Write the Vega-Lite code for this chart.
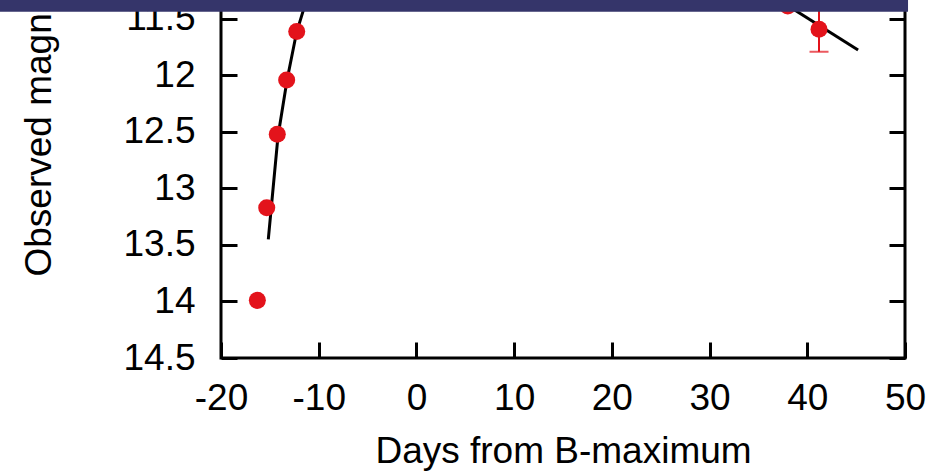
{
  "$schema": "https://vega.github.io/schema/vega-lite/v6.json",
  "width": 684,
  "height": 358,
  "autosize": {"type": "none"},
  "padding": {"left": 221, "top": 0, "right": 46, "bottom": 113},
  "background": "white",
  "config": {
    "view": {"stroke": "black", "strokeWidth": 3},
    "axis": {
      "grid": false,
      "domain": false,
      "offset": -16,
      "labelFlush": false,
      "labelOverlap": false,
      "tickColor": "black",
      "tickWidth": 3,
      "tickSize": 16,
      "labelFont": "Liberation Sans",
      "labelFontSize": 37,
      "labelColor": "black",
      "titleFont": "Liberation Sans",
      "titleFontSize": 37,
      "titleFontWeight": "normal",
      "titleColor": "black",
      "zindex": 0
    }
  },
  "datasets": {
    "obs": [
      {"day": -16.28, "mag": 13.99},
      {"day": -15.32, "mag": 13.17},
      {"day": -14.24, "mag": 12.52},
      {"day": -13.28, "mag": 12.04},
      {"day": -12.25, "mag": 11.61},
      {"day": 38.0, "mag": 11.385},
      {"day": 41.2, "mag": 11.59}
    ],
    "err": [
      {"day": 41.2, "lo": 11.39, "hi": 11.79}
    ],
    "fit": [
      {"curve": "rise", "day": -15.16, "mag": 13.45},
      {"curve": "rise", "day": -14.17, "mag": 12.54},
      {"curve": "rise", "day": -13.24, "mag": 12.04},
      {"curve": "rise", "day": -12.27, "mag": 11.62},
      {"curve": "rise", "day": -11.6, "mag": 11.43},
      {"curve": "rise", "day": -11.25, "mag": 11.33},
      {"curve": "decline", "day": 36.5, "mag": 11.3},
      {"curve": "decline", "day": 45.2, "mag": 11.775}
    ]
  },
  "layer": [
    {
      "data": {"name": "fit"},
      "mark": {"type": "line", "color": "black", "strokeWidth": 3, "clip": true},
      "encoding": {
        "x": {"field": "day", "type": "quantitative",
              "scale": {"domain": [-20, 50], "zero": false, "nice": false},
              "axis": {"orient": "bottom", "values": [-20, -10, 0, 10, 20, 30, 40, 50],
                       "labelExpr": "'' + datum.value", "labelPadding": 22,
                       "title": "Days from B-maximum", "titleBaseline": "alphabetic",
                       "titleY": 120}},
        "y": {"field": "mag", "type": "quantitative",
              "scale": {"domain": [11.332, 14.5], "reverse": true, "zero": false, "nice": false},
              "axis": {"orient": "left", "values": [11.5, 12, 12.5, 13, 13.5, 14, 14.5],
                       "labelExpr": "'' + datum.value", "labelPadding": 26,
                       "title": "Observed magnitude", "titleAngle": -90,
                       "titleAlign": "left", "titleBaseline": "alphabetic",
                       "titleX": -187, "titleY": 276}},
        "detail": {"field": "curve"}
      }
    },
    {
      "data": {"name": "err"},
      "mark": {"type": "rule", "color": "#e3131b", "strokeWidth": 2},
      "encoding": {
        "x": {"field": "day", "type": "quantitative", "axis": null},
        "y": {"field": "lo", "type": "quantitative",
              "axis": {"orient": "right", "values": [11.5, 12, 12.5, 13, 13.5, 14, 14.5], "labels": false, "title": null}},
        "y2": {"field": "hi"}
      }
    },
    {
      "data": {"name": "err"},
      "mark": {"type": "tick", "color": "#e3131b", "thickness": 2, "size": 19, "orient": "horizontal"},
      "encoding": {
        "x": {"field": "day", "type": "quantitative", "axis": null},
        "y": {"field": "hi", "type": "quantitative", "axis": null}
      }
    },
    {
      "data": {"name": "obs"},
      "mark": {"type": "point", "filled": true, "shape": "circle", "size": 290, "color": "#e3131b", "opacity": 1},
      "encoding": {
        "x": {"field": "day", "type": "quantitative", "axis": null},
        "y": {"field": "mag", "type": "quantitative", "axis": null}
      }
    },
    {
      "data": {"values": [{"band": "top"}]},
      "mark": {"type": "rect", "color": "#35356a", "clip": false},
      "encoding": {
        "x": {"datum": -42.62, "type": "quantitative", "axis": null},
        "x2": {"datum": 50.31},
        "y": {"datum": 11.1, "type": "quantitative", "axis": null},
        "y2": {"datum": 11.436}
      }
    }
  ],
  "resolve": {"axis": {"y": "independent", "x": "independent"}}
}
